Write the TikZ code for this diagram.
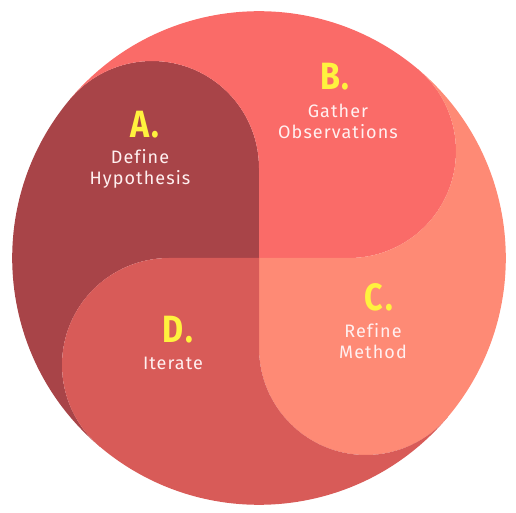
\documentclass[tikz,border=0pt]{standalone}
\usepackage{fontspec}
\setmainfont{Fira Sans}
\newfontfamily\lblfont[LetterSpace=6,Ligatures=NoCommon]{Fira Sans}
\definecolor{colA}{RGB}{168,68,72}
\definecolor{colB}{RGB}{250,107,104}
\definecolor{colC}{RGB}{254,138,117}
\definecolor{colD}{RGB}{216,91,88}
\definecolor{ltryel}{RGB}{255,242,62}
\definecolor{txtwh}{RGB}{255,240,240}
\begin{document}
\begin{tikzpicture}[x=1pt,y=1pt,
  petalpath/.style={insert path={(0,0) -- (-90,0)
      arc[start angle=90,end angle=229.93,radius=107]
      arc[start angle=229.93,end angle=139.93,radius=246.82]
      arc[start angle=139.93,end angle=0,radius=107] -- cycle}},
  letter/.style={text=ltryel,font=\fontsize{38}{38}\selectfont\bfseries,xscale=0.85,inner sep=0pt},
  label/.style={text=txtwh,font=\lblfont\fontsize{18}{21}\selectfont,align=center,inner sep=0pt}]
\useasboundingbox (-259,-255) rectangle (257,258);
\begin{scope}[rotate=0]\fill[colA, petalpath];\end{scope}
\begin{scope}[rotate=-90]\fill[colB, petalpath];\end{scope}
\begin{scope}[rotate=-180]\fill[colC, petalpath];\end{scope}
\begin{scope}[rotate=-270]\fill[colD, petalpath];\end{scope}
\node[letter] (la) at (-114,133) {A\kern2pt.};
\node[label] (ta) at (-119,89) {Define\\Hypothesis};
\node[letter] (lb) at (76,181) {B\kern2pt.};
\node[label] (tb) at (79,137) {Gather\\Observations};
\node[letter] (lc) at (120,-39) {C\kern2pt.};
\node[label] (tc) at (114,-83) {Refine\\Method};
\node[letter] (ld) at (-81,-72) {D\kern2pt.};
\node[label] (td) at (-86,-105) {Iterate};
\end{tikzpicture}
\end{document}
